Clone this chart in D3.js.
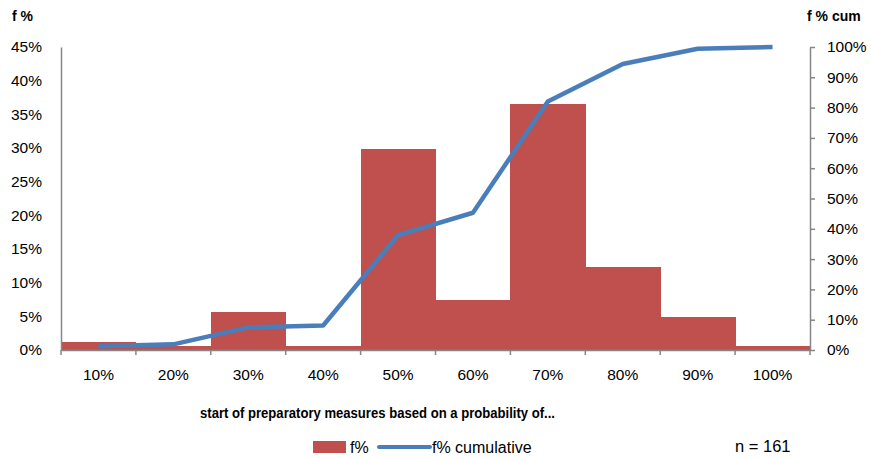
<!DOCTYPE html>
<html><head><meta charset="utf-8">
<script src="https://cdn.jsdelivr.net/npm/d3@7"></script>
<style>
body{margin:0;background:#fff;}
text{font-family:'Liberation Sans',Arial,sans-serif;fill:#000;}
</style></head>
<body>
<svg id="chart" width="871" height="459"></svg>
<script>
const categories = ["10%","20%","30%","40%","50%","60%","70%","80%","90%","100%"];
const fPercent = [1.24, 0.62, 5.59, 0.62, 29.8, 7.45, 36.6, 12.4, 4.97, 0.62];
const fCumulative = [1.24, 1.86, 7.45, 8.07, 37.9, 45.3, 82.0, 94.4, 99.4, 100];
const leftTicks = [0,5,10,15,20,25,30,35,40,45];
const rightTicks = [0,10,20,30,40,50,60,70,80,90,100];

const svg = d3.select("#chart");
const L = 61, R = 810, T = 47, B = 350;
const x = d3.scaleBand().domain(categories).range([L, R]).padding(0);
const yL = d3.scaleLinear().domain([0,45]).range([B, T]);
const yR = d3.scaleLinear().domain([0,100]).range([B, T]);
const axisColor = "#868686";
const fs = "15.5px";

// bars
svg.append("g").attr("shape-rendering", "crispEdges").selectAll("rect").data(categories).join("rect")
  .attr("x", d => x(d)).attr("width", x.bandwidth() + 0.5)
  .attr("y", (d,i) => yL(fPercent[i]))
  .attr("height", (d,i) => B - yL(fPercent[i]))
  .attr("fill", "#c0504d");

// left axis
const gl = svg.append("g").attr("transform", `translate(${L},0)`)
  .call(d3.axisLeft(yL).tickValues(leftTicks).tickSize(0).tickPadding(19).tickFormat(d => d + "%"));
gl.select(".domain").attr("stroke", axisColor).attr("stroke-width", 1.5);
gl.selectAll("text").style("font-size", fs).attr("fill", "#000");

// right axis
const gr = svg.append("g").attr("transform", `translate(${R},0)`)
  .call(d3.axisRight(yR).tickValues(rightTicks).tickSizeInner(5).tickSizeOuter(0).tickPadding(12).tickFormat(d => d + "%"));
gr.select(".domain").attr("stroke", axisColor).attr("stroke-width", 1.5);
gr.selectAll(".tick line").attr("stroke", axisColor).attr("stroke-width", 1.5);
gr.selectAll("text").style("font-size", fs).attr("fill", "#000");

// bottom axis
const gb = svg.append("g").attr("transform", `translate(0,${B})`)
  .call(d3.axisBottom(x).tickSize(0).tickPadding(19));
gb.select(".domain").attr("stroke", axisColor).attr("stroke-width", 1.5);
gb.selectAll("text").style("font-size", fs).attr("fill", "#000");
const bounds = categories.map(c => x(c)).concat([x(categories[categories.length-1]) + x.bandwidth()]);
gb.selectAll("line.bt").data(bounds).join("line").attr("class","bt")
  .attr("x1", d => d).attr("x2", d => d).attr("y1", 0).attr("y2", 5)
  .attr("stroke", axisColor).attr("stroke-width", 1.5);

// cumulative line
const line = d3.line().x((d,i) => x(categories[i]) + x.bandwidth()/2).y(d => yR(d));
svg.append("path").datum(fCumulative).attr("d", line)
  .attr("fill", "none").attr("stroke", "#4a7ebb").attr("stroke-width", 4.5).attr("stroke-linejoin", "round");

// titles
svg.append("text").attr("x", 12).attr("y", 21).text("f %").style("font-size", "14px").style("font-weight", "bold");
svg.append("text").attr("x", 807).attr("y", 21).text("f % cum").style("font-size", "14px").style("font-weight", "bold");
svg.append("text").attr("x", 200).attr("y", 418).text("start of preparatory measures based on a probability of...")
  .style("font-size", "15px").style("font-weight", "bold")
  .attr("textLength", 355).attr("lengthAdjust", "spacingAndGlyphs");

// legend
svg.append("rect").attr("x", 313).attr("y", 441).attr("width", 33).attr("height", 12).attr("fill", "#c0504d");
svg.append("text").attr("x", 350).attr("y", 453).text("f%").style("font-size", "16px");
svg.append("line").attr("x1", 379).attr("x2", 430).attr("y1", 447).attr("y2", 447)
  .attr("stroke", "#4a7ebb").attr("stroke-width", 4).attr("stroke-linecap", "round");
svg.append("text").attr("x", 432).attr("y", 453).text("f% cumulative").style("font-size", "16px");
svg.append("text").attr("x", 735).attr("y", 452).text("n = 161").style("font-size", "16.5px");
</script>
</body></html>
